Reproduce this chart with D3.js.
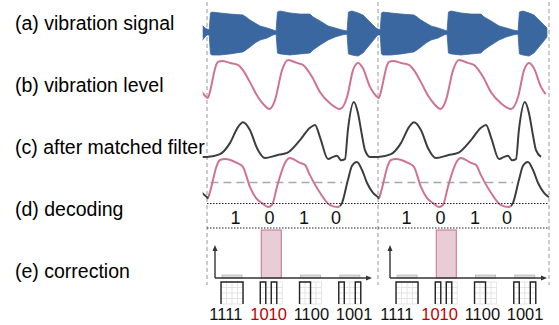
<!DOCTYPE html>
<html>
<head>
<meta charset="utf-8">
<script src="https://cdn.jsdelivr.net/npm/d3@7"></script>
<style>
  html, body { margin: 0; padding: 0; background: #fff; }
  svg { display: block; font-family: "Liberation Sans", Arial, sans-serif; }
</style>
</head>
<body>
<div id="chart"></div>
<script>
// ---------------------------------------------------------------------------- //
//                                     Data                                     //
// ---------------------------------------------------------------------------- //
// time is in % of one tag period, the period repeats twice in the figure

// (a) vibration signal envelope (upper / lower amplitude)
var envT   = [0, 1.3, 2.0, 2.9, 7.6, 13.5, 21, 22.8, 25.1, 28.1, 31, 35.1, 38.6, 40.4, 41.2, 42.7,
              48.5, 54.4, 60.2, 62, 66.1, 70.8, 74.9, 78.9, 81.9, 82.7, 84.8, 88.3, 91.2, 93.6, 96.5, 98.8];
var envTop = [0.18, 0.14, 0.91, 0.95, 0.91, 0.86, 0.82, 0.73, 0.59, 0.45, 0.32, 0.23, 0.14, 0.09, 0.95, 1.0,
              0.91, 0.86, 0.86, 0.73, 0.55, 0.32, 0.23, 0.14, 0.09, 0.95, 1.0, 0.91, 0.82, 0.64, 0.41, 0.23];
var envBot = [-0.09, -0.09, -0.95, -1.0, -1.0, -0.95, -0.86, -0.77, -0.64, -0.45, -0.32, -0.23, -0.09, -0.05, -0.91, -0.95,
              -1.0, -0.95, -0.91, -0.77, -0.55, -0.32, -0.18, -0.09, -0.05, -0.95, -1.0, -1.05, -0.91, -0.68, -0.41, -0.18];

// (b) vibration level
var levelT = [0.5, 2, 3.5, 5, 6.5, 8.8, 13.5, 18.1, 21, 25.1, 29.8, 33, 36.5, 39.8, 43.9, 47.4,
              52.6, 56.1, 61.4, 66.1, 71.9, 77.8, 81.9, 85.4, 88.3, 91.2, 95.3, 98];
var levelV = [0.23, 0.40, 0.65, 0.88, 0.98, 1.0, 0.96, 0.92, 0.81, 0.56, 0.25, 0.10, 0.0, 0.19, 0.81, 1.02,
              0.96, 0.92, 0.67, 0.35, 0.12, 0.0, 0.25, 0.81, 0.96, 0.85, 0.46, 0.31];

// (c) after matched filter
var mfT = [0, 7.6, 13.5, 18.1, 21, 25.1, 29.2, 33.9, 40.9, 46.8, 54.4, 60.2, 63.2, 66.1, 70.8, 73.7,
           76, 78.4, 80.7, 82.4, 85.9, 88.3, 90.6, 92.4, 95.3];
var mfV = [0.02, 0.07, 0.27, 0.55, 0.64, 0.5, 0.18, 0.0, 0.05, 0.09, 0.32, 0.54, 0.59, 0.37, -0.02, 0.02,
           0.04, -0.04, -0.02, 0.5, 1.0, 0.8, 0.41, 0.14, 0.02];

// (c/d) overlay: level (pink) up to the switch, matched filter (dark) after it
var lowT = [0.5, 1.8, 3.5, 5.3, 7.6, 10.5, 17.5, 21, 25.1, 28.7, 32.2, 35.7, 38, 40.9, 45.6, 48.5,
            54.4, 57.3, 60.2, 66.1, 71.9, 76.6, 78.9, 82.4, 84.8, 87.7, 90.6, 93.6, 97.1, 100];
var lowV = [0.18, 0.31, 0.55, 0.80, 0.96, 0.98, 0.90, 0.82, 0.41, 0.18, 0.08, 0.0, 0.04, 0.41, 0.90, 1.0,
            0.90, 0.86, 0.65, 0.29, 0.04, 0.0, 0.08, 0.55, 0.84, 0.92, 0.76, 0.49, 0.29, 0.2];
var lowStart = 1.0;
var lowSwitch = 77.5;
var threshold = 0.5;
var thresholdSpan = [2, 79];

// (d) decoding
var bits = ['1', '0', '1', '0'];
var bitT = [16.7, 36.5, 56.7, 75.5];

// (e) correction
var codes  = ['1111', '1010', '1100', '1001'];
var scores = [0.06, 1.0, 0.06, 0.06];

var rowLabels = ['(a) vibration signal', '(b) vibration level', '(c) after matched filter', '(d) decoding', '(e) correction'];

// ---------------------------------------------------------------------------- //
//                                    Styles                                    //
// ---------------------------------------------------------------------------- //
var BLUE = '#3b67a1';
var PINK = '#cf7490';
var DARK = '#3d3d3d';
var RED  = '#c00000';

var W = 559, H = 325;
var periods = [0, 1];
var tileK = [-1, 0, 1];
var U_MIN = -2.5, U_MAX = 200.5;

var svg = d3.select('#chart').append('svg').attr('width', W).attr('height', H);
var defs = svg.append('defs');

var x = d3.scaleLinear().domain([0, 200]).range([207, 549]);

var yEnv   = d3.scaleLinear().domain([-1, 1]).range([55, 11]);
var yLevel = d3.scaleLinear().domain([0, 1]).range([109, 61]);
var yMf    = d3.scaleLinear().domain([0, 1]).range([158, 102]);
var yLow   = d3.scaleLinear().domain([0, 1]).range([207, 158]);
var yBar   = d3.scaleLinear().domain([0, 1]).range([278, 230]);

// repeat one period over neighbouring periods
function tile(T, V, V2) {
    var out = [];
    tileK.forEach(function(k){
        T.forEach(function(t, i){
            var d = {u: t + 100 * k, v: V[i]};
            if (V2) { d.v2 = V2[i]; }
            out.push(d);
        });
    });
    return out;
}

// Clip paths
//_______________
defs.append('clipPath').attr('id', 'clipAll').append('rect')
    .attr('x', x(U_MIN)).attr('y', 0)
    .attr('width', x(U_MAX) - x(U_MIN)).attr('height', H);

var clipPink = defs.append('clipPath').attr('id', 'clipPink');
var clipDark = defs.append('clipPath').attr('id', 'clipDark');
tileK.forEach(function(k){
    var a = Math.max(U_MIN, 100 * k + lowStart), b = Math.min(U_MAX, 100 * k + lowSwitch);
    if (b > a) {
        clipPink.append('rect').attr('x', x(a)).attr('y', 0).attr('width', x(b) - x(a)).attr('height', H);
    }
    var c = Math.max(U_MIN, 100 * k + lowSwitch), e = Math.min(U_MAX, 100 * (k + 1) + lowStart);
    if (e > c) {
        clipDark.append('rect').attr('x', x(c)).attr('y', 0).attr('width', x(e) - x(c)).attr('height', H);
    }
});

// Period borders
//_______________
svg.append('g').selectAll('line')
    .data([0, 100, 200])
    .join('line')
    .attr('x1', function(d){ return x(d); })
    .attr('x2', function(d){ return x(d); })
    .attr('y1', 2).attr('y2', 285)
    .attr('stroke', '#aaa')
    .attr('stroke-width', 1.2)
    .attr('stroke-dasharray', '4,3');

// Row labels
//_______________
svg.append('g').selectAll('text')
    .data(rowLabels)
    .join('text')
    .attr('x', 15)
    .attr('y', function(d, i){ return 30 + i * 62; })
    .attr('font-size', 19.5)
    .attr('fill', '#000')
    .text(function(d){ return d; });

var plot = svg.append('g').attr('clip-path', 'url(#clipAll)');

// (a) signal
//_______________
plot.append('path')
    .datum(tile(envT, envTop, envBot))
    .attr('fill', BLUE)
    .attr('stroke', BLUE)
    .attr('stroke-width', 0.8)
    .attr('d', d3.area()
        .x(function(d){ return x(d.u); })
        .y0(function(d){ return yEnv(d.v2); })
        .y1(function(d){ return yEnv(d.v); }));

// (b) level
//_______________
plot.append('path')
    .datum(tile(levelT, levelV))
    .attr('fill', 'none')
    .attr('stroke', PINK)
    .attr('stroke-width', 2)
    .attr('d', d3.line()
        .curve(d3.curveMonotoneX)
        .x(function(d){ return x(d.u); })
        .y(function(d){ return yLevel(d.v); }));

// (c) matched filter
//_______________
plot.append('path')
    .datum(tile(mfT, mfV))
    .attr('fill', 'none')
    .attr('stroke', DARK)
    .attr('stroke-width', 2)
    .attr('d', d3.line()
        .curve(d3.curveMonotoneX)
        .x(function(d){ return x(d.u); })
        .y(function(d){ return yMf(d.v); }));

// threshold
svg.append('g').selectAll('line')
    .data(periods)
    .join('line')
    .attr('x1', function(p){ return x(100 * p + thresholdSpan[0]); })
    .attr('x2', function(p){ return x(100 * p + thresholdSpan[1]); })
    .attr('y1', yLow(threshold)).attr('y2', yLow(threshold))
    .attr('stroke', '#a8a8a8')
    .attr('stroke-width', 1.5)
    .attr('stroke-dasharray', '8,5');

// overlay curve (pink / dark parts)
var lowLine = d3.line()
    .curve(d3.curveMonotoneX)
    .x(function(d){ return x(d.u); })
    .y(function(d){ return yLow(d.v); });
var lowData = tile(lowT, lowV);

svg.append('path')
    .datum(lowData)
    .attr('clip-path', 'url(#clipDark)')
    .attr('fill', 'none')
    .attr('stroke', DARK)
    .attr('stroke-width', 2)
    .attr('d', lowLine);

svg.append('path')
    .datum(lowData)
    .attr('clip-path', 'url(#clipPink)')
    .attr('fill', 'none')
    .attr('stroke', PINK)
    .attr('stroke-width', 2)
    .attr('d', lowLine);

// (d) decoding
//_______________
svg.append('g').selectAll('line')
    .data([203.5, 228])
    .join('line')
    .attr('x1', x(0)).attr('x2', x(200))
    .attr('y1', function(d){ return d; })
    .attr('y2', function(d){ return d; })
    .attr('stroke', '#222')
    .attr('stroke-width', 1)
    .attr('stroke-dasharray', '1.5,1.5');

periods.forEach(function(p){
    svg.append('g').selectAll('text')
        .data(bits)
        .join('text')
        .attr('x', function(d, i){ return x(100 * p + bitT[i]); })
        .attr('y', 224)
        .attr('text-anchor', 'middle')
        .attr('font-size', 18)
        .attr('fill', '#111')
        .text(function(d){ return d; });
});

// (e) correction
//_______________
var panelLeft = [215, 390];
var PANEL_W = 157;
var ICON = 22;
var best = scores.indexOf(d3.max(scores));

periods.forEach(function(p){
    var x0 = panelLeft[p];
    var g = svg.append('g');

    var band = d3.scaleBand()
        .domain(codes)
        .range([x0 - 2.6, x0 - 2.6 + PANEL_W])
        .paddingInner(0.49)
        .paddingOuter(0.245);

    var labelBand = d3.scaleBand()
        .domain(codes)
        .range([x(100 * p) - 2.5, x(100 * p + 100) - 2.5]);

    // bars
    g.selectAll('rect.bar')
        .data(codes)
        .join('rect')
        .attr('class', 'bar')
        .attr('x', function(d){ return band(d); })
        .attr('width', band.bandwidth())
        .attr('y', function(d, i){ return yBar(scores[i]); })
        .attr('height', function(d, i){ return yBar(0) - yBar(scores[i]); })
        .attr('fill', function(d, i){ return i === best ? '#e9cdd6' : '#dcdcdc'; })
        .attr('stroke', function(d, i){ return i === best ? '#c4708c' : '#bdbdbd'; })
        .attr('stroke-width', 1);

    // axes with arrows
    g.append('line')
        .attr('x1', x0).attr('x2', x0)
        .attr('y1', yBar(0)).attr('y2', 250)
        .attr('stroke', '#333').attr('stroke-width', 1.4);
    g.append('path')
        .attr('d', 'M' + x0 + ',245 L' + (x0 - 2.5) + ',251 L' + (x0 + 2.5) + ',251 Z')
        .attr('fill', '#333');
    g.append('line')
        .attr('x1', x0).attr('x2', x0 + PANEL_W - 5)
        .attr('y1', yBar(0)).attr('y2', yBar(0))
        .attr('stroke', '#333').attr('stroke-width', 1.4);
    g.append('path')
        .attr('d', 'M' + (x0 + PANEL_W) + ',' + yBar(0) + ' L' + (x0 + PANEL_W - 6) + ',' + (yBar(0) - 2.5) +
                   ' L' + (x0 + PANEL_W - 6) + ',' + (yBar(0) + 2.5) + ' Z')
        .attr('fill', '#333');

    // bit pattern icons
    codes.forEach(function(code){
        var cx = band(code) + band.bandwidth() / 2;
        var ix = cx - ICON / 2, iy = 282;
        var cell = ICON / code.length;
        var icon = g.append('g');

        d3.range(code.length + 1).forEach(function(j){
            icon.append('line')
                .attr('x1', ix + j * cell).attr('x2', ix + j * cell)
                .attr('y1', iy).attr('y2', iy + ICON)
                .attr('stroke', '#dedede').attr('stroke-width', 0.8);
            icon.append('line')
                .attr('x1', ix).attr('x2', ix + ICON)
                .attr('y1', iy + j * cell).attr('y2', iy + j * cell)
                .attr('stroke', '#dedede').attr('stroke-width', 0.8);
        });

        // high pulses as open boxes
        var d = '';
        var j = 0;
        while (j < code.length) {
            if (code[j] === '1') {
                var k = j;
                while (k < code.length && code[k] === '1') { k++; }
                d += 'M' + (ix + j * cell) + ',' + (iy + ICON) +
                     ' V' + iy + ' H' + (ix + k * cell) + ' V' + (iy + ICON) + ' ';
                j = k;
            } else { j++; }
        }
        icon.append('path')
            .attr('d', d)
            .attr('fill', 'none')
            .attr('stroke', '#222')
            .attr('stroke-width', 1.4);
    });

    // code labels
    g.selectAll('text')
        .data(codes)
        .join('text')
        .attr('x', function(d){ return labelBand(d) + labelBand.bandwidth() / 2; })
        .attr('y', 320)
        .attr('text-anchor', 'middle')
        .attr('font-size', 16.5)
        .attr('fill', function(d, i){ return i === best ? RED : '#111'; })
        .text(function(d){ return d; });
});
</script>
</body>
</html>
